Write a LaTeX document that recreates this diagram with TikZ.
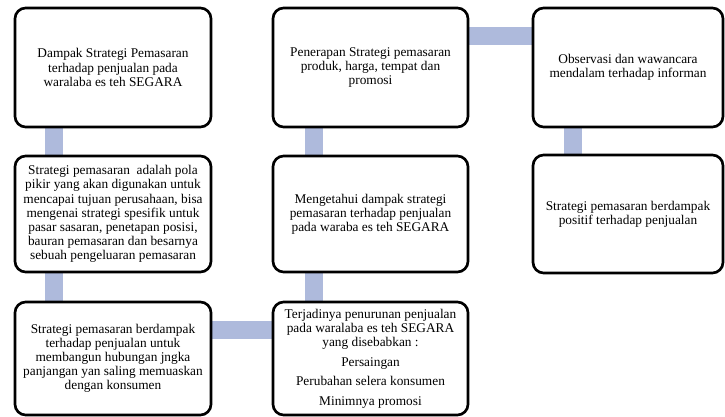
\documentclass[tikz,border=0pt]{standalone}
\usepackage{fontspec}
\setmainfont{Liberation Serif}
\usetikzlibrary{backgrounds}
\definecolor{barblue}{RGB}{174,186,220}
\tikzset{
  box/.style={draw=black, line width=2pt, rounded corners=8pt, fill=white,
    align=center, font=\fontsize{10}{10.6}\selectfont, inner sep=2pt},
  bar/.style={draw=barblue, line width=13.5pt, line cap=butt},
}
\begin{document}
\begin{tikzpicture}[x=0.75pt, y=-0.75pt]
\useasboundingbox (0,0) rectangle (725,417);
% left column
\node[box, minimum width={196*0.75pt}, minimum height={119*0.75pt}] (b1) at (113,67.5)
  {Dampak Strategi Pemasaran\\terhadap penjualan pada\\waralaba es teh SEGARA};
\node[box, minimum width={196*0.75pt}, minimum height={116*0.75pt}] (b2) at (113,214)
  {Strategi pemasaran\ \ adalah pola\\pikir yang akan digunakan untuk\\mencapai tujuan perusahaan, bisa\\mengenai strategi spesifik untuk\\pasar sasaran, penetapan posisi,\\bauran pemasaran dan besarnya\\sebuah pengeluaran pemasaran};
\node[box, minimum width={196*0.75pt}, minimum height={113*0.75pt}] (b3) at (113,358.5)
  {Strategi pemasaran berdampak\\terhadap penjualan untuk\\membangun hubungan jngka\\panjangan yan saling memuaskan\\dengan konsumen};
% middle column
\node[box, minimum width={195*0.75pt}, minimum height={119*0.75pt}] (b4) at (370.5,67.5)
  {Penerapan Strategi pemasaran\\produk, harga, tempat dan\\promosi};
\node[box, minimum width={195*0.75pt}, minimum height={116*0.75pt}] (b5) at (370.5,214)
  {Mengetahui dampak strategi\\pemasaran terhadap penjualan\\pada waraba es teh SEGARA};
\node[box, minimum width={195*0.75pt}, minimum height={113*0.75pt}] (b6) at (370.5,358.5)
  {Terjadinya penurunan penjualan\\pada waralaba es teh SEGARA\\yang disebabkan :\\[4pt]Persaingan\\[4pt]Perubahan selera konsumen\\[4pt]Minimnya promosi};
% right column
\node[box, minimum width={190*0.75pt}, minimum height={119*0.75pt}] (b7) at (628,67.5)
  {Observasi dan wawancara\\mendalam terhadap informan};
\node[box, minimum width={190*0.75pt}, minimum height={118*0.75pt}] (b8) at (628,214)
  {Strategi pemasaran berdampak\\positif terhadap penjualan};
% connectors
\begin{scope}[on background layer]
\draw[bar] ([xshift=30pt]b1.south west) -- ([xshift=30pt]b2.north west);
\draw[bar] ([xshift=30pt]b2.south west) -- ([xshift=30pt]b3.north west);
\draw[bar] ([yshift=-21.75pt]b3.north east) -- ([yshift=-21.75pt]b6.north west);
\draw[bar] ([xshift=31.5pt]b6.north west) -- ([xshift=31.5pt]b5.south west);
\draw[bar] ([xshift=31.5pt]b5.north west) -- ([xshift=31.5pt]b4.south west);
\draw[bar] ([yshift=-22pt]b4.north east) -- ([yshift=-22pt]b7.north west);
\draw[bar] ([xshift=30.75pt]b7.south west) -- ([xshift=30.75pt]b8.north west);
\end{scope}
\end{tikzpicture}
\end{document}
